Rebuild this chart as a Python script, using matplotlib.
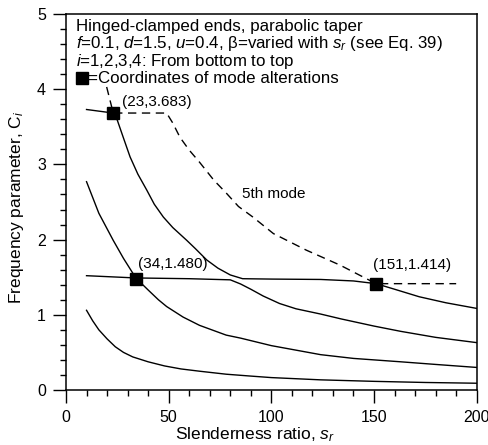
import matplotlib
matplotlib.use("Agg")
import matplotlib.pyplot as plt
from matplotlib.ticker import MultipleLocator

plt.rcParams['font.family'] = ['Liberation Sans', 'DejaVu Sans']
plt.rcParams['font.size'] = 11
plt.rcParams['mathtext.fontset'] = 'custom'
plt.rcParams['mathtext.rm'] = 'Liberation Sans'
plt.rcParams['mathtext.it'] = 'Liberation Sans:italic'

# Mode curves (slenderness ratio vs frequency parameter)
mode1_x = [10, 13, 16, 20, 24, 28, 32.5, 40, 48, 56, 65, 78, 90, 100, 124, 150, 175, 200]
mode1_y = [1.06, 0.92, 0.80, 0.68, 0.575, 0.50, 0.44, 0.375, 0.32, 0.28, 0.25, 0.21, 0.185, 0.165, 0.135, 0.115, 0.10, 0.09]

mode2_x = [10, 16, 23, 28, 34, 40, 45, 49, 57, 65, 78, 85, 100, 124, 140, 163, 180, 200]
mode2_y = [2.77, 2.35, 1.99, 1.75, 1.49, 1.33, 1.20, 1.11, 0.97, 0.86, 0.73, 0.69, 0.59, 0.47, 0.42, 0.375, 0.34, 0.30]

mode3_x = [10, 34, 60, 80, 85, 90, 96, 104, 112, 124, 134, 150, 163, 180, 200]
mode3_y = [1.52, 1.49, 1.48, 1.465, 1.41, 1.34, 1.25, 1.15, 1.08, 1.01, 0.945, 0.85, 0.78, 0.70, 0.63]

mode4_x = [10, 23, 24.7, 28, 31.2, 35, 39.3, 43, 47.4, 52, 58.8, 63, 68.5, 74, 80, 86, 100, 124, 140, 151, 160, 172, 185, 200]
mode4_y = [3.73, 3.683, 3.61, 3.35, 3.10, 2.87, 2.66, 2.47, 2.30, 2.16, 1.99, 1.88, 1.73, 1.62, 1.53, 1.48, 1.475, 1.47, 1.45, 1.414, 1.34, 1.24, 1.16, 1.085]

mode5_x = [19.8, 23, 49, 52, 55.5, 60, 65, 72, 78, 84, 91, 101, 117, 133.5, 151, 190]
mode5_y = [4.03, 3.683, 3.683, 3.55, 3.36, 3.19, 3.03, 2.79, 2.62, 2.44, 2.30, 2.08, 1.86, 1.66, 1.414, 1.414]

# Coordinates of mode alterations
alt_x = [23, 34, 151]
alt_y = [3.683, 1.480, 1.414]
alt_labels = ['(23,3.683)', '(34,1.480)', '(151,1.414)']

fig = plt.figure(figsize=(4.89, 4.45), dpi=100)
ax = fig.add_axes([66 / 489, 55 / 445, 410.7 / 489, 376 / 445])

for xs, ys in [(mode1_x, mode1_y), (mode2_x, mode2_y), (mode3_x, mode3_y), (mode4_x, mode4_y)]:
    ax.plot(xs, ys, color='black', lw=1.0)
ax.plot(mode5_x, mode5_y, color='black', lw=1.0, dashes=(6, 4))
ax.plot(alt_x, alt_y, 's', color='black', ms=8, zorder=5)

# annotations
ax.text(27.5, 3.83, alt_labels[0], fontsize=11, va='center')
ax.text(35, 1.68, alt_labels[1], fontsize=11, va='center')
ax.text(149.5, 1.66, alt_labels[2], fontsize=11, va='center')
ax.text(85.5, 2.61, '5th mode', fontsize=11, va='center')

# description block
ax.text(4.9, 4.774, 'Hinged-clamped ends, parabolic taper', va='baseline', fontsize=12.2)
ax.text(4.9, 4.544, r'$f$=0.1, $d$=1.5, $u$=0.4, β=varied with $s_r$ (see Eq. 39)', va='baseline', fontsize=12.2)
ax.text(4.9, 4.313, r'$i$=1,2,3,4: From bottom to top', va='baseline', fontsize=12.2)
ax.plot([7.6], [4.149], 's', color='black', ms=8)
ax.text(10.5, 4.083, '=Coordinates of mode alterations', va='baseline', fontsize=12.2)

ax.set_xlim(0, 200)
ax.set_ylim(0, 5)
ax.xaxis.set_major_locator(MultipleLocator(50))
ax.xaxis.set_minor_locator(MultipleLocator(10))
ax.yaxis.set_major_locator(MultipleLocator(1))
ax.yaxis.set_minor_locator(MultipleLocator(0.2))
ax.tick_params(which='both', direction='out', width=1.0, top=False, right=False, labelsize=11.5)
ax.tick_params(which='major', length=9.5)
ax.tick_params(which='minor', length=4.5)
ax.tick_params(axis='x', pad=5)
ax.tick_params(axis='y', pad=5)
for sp in ax.spines.values():
    sp.set_linewidth(1.1)

ax.set_xlabel(r'Slenderness ratio, $s_r$', fontsize=12.5)
ax.set_ylabel(r'Frequency parameter, $\mathrm{C}_i$', fontsize=12.5)
ax.xaxis.set_label_coords(0.46, -0.094)
ax.yaxis.set_label_coords(-0.098, 0.485)

fig.savefig('out.png', dpi=100)
